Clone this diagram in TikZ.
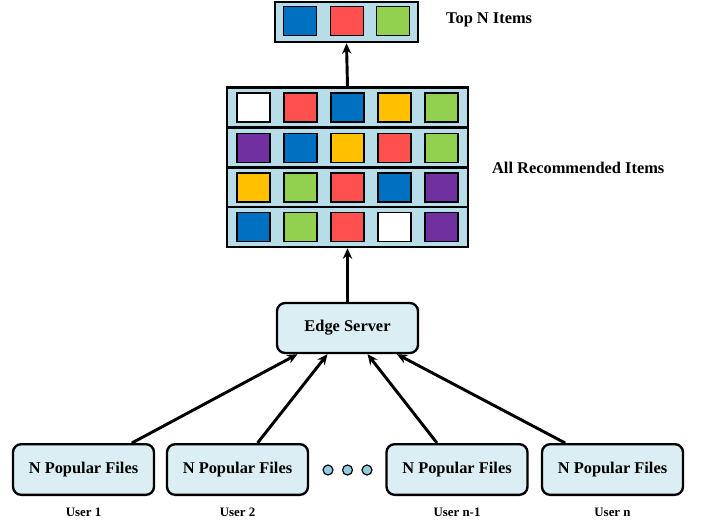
\documentclass[tikz,border=0pt]{standalone}
\usepackage{fontspec}
\setmainfont{Liberation Serif}
\usetikzlibrary{arrows.meta,positioning}
\definecolor{itemBlue}{RGB}{0, 112, 192}
\definecolor{itemRed}{RGB}{255, 80, 80}
\definecolor{itemYellow}{RGB}{255, 192, 0}
\definecolor{itemGreen}{RGB}{146, 208, 80}
\definecolor{itemPurple}{RGB}{112, 48, 160}
\definecolor{listFill}{RGB}{183, 221, 232}
\definecolor{boxFill}{RGB}{218, 238, 243}
\definecolor{dotFill}{RGB}{147, 205, 221}

\begin{document}
\begin{tikzpicture}[
    x=0.03cm, y=-0.03cm,
    font=\bfseries\fontsize{14}{16}\selectfont,
    % Rounded box for server and user files
    roundBox/.style={
        rectangle,
        rounded corners=7pt,
        draw=black,
        fill=boxFill,
        line width=2pt,
        minimum width=4.23cm,
        minimum height=1.52cm,
        inner sep=2pt
    },
    % One list row holding coloured items
    listRow/.style={
        rectangle,
        draw=black,
        fill=listFill,
        line width=2.2pt,
        minimum width=7.23cm,
        minimum height=1.2cm,
        inner sep=0pt
    },
    % A single coloured item
    itemBox/.style={
        rectangle,
        draw=black,
        fill=#1,
        line width=1.4pt,
        minimum width=1.0cm,
        minimum height=0.87cm,
        inner sep=0pt
    },
    % Ellipsis dot between users
    gapDot/.style={
        circle,
        draw=black,
        fill=dotFill,
        line width=1pt,
        minimum size=0.3cm,
        inner sep=0pt
    },
    userLabel/.style={font=\bfseries\fontsize{11}{13}\selectfont},
    flowArrow/.style={
        -{Stealth[length=9pt,width=8pt]},
        line width=2.5pt
    }
]
    \useasboundingbox (0,0) rectangle (701,522);

    % Top N items
    \node[listRow, minimum width=4.29cm] (top) at (346.5,22) {};
    \node[itemBox=itemBlue]  (t1) at (300,21) {};
    \node[itemBox=itemRed]   (t2) at (347,21) {};
    \node[itemBox=itemGreen] (t3) at (393,21) {};
    \node[anchor=west] (topLab) at (442,20) {Top N Items};

    % All recommended items, one row per user
    \node[listRow] (row1) at (347.5,107.5) {};
    \node[listRow] (row2) at (347.5,148) {};
    \node[listRow] (row3) at (347.5,187.5) {};
    \node[listRow] (row4) at (347.5,227) {};
    \foreach \c [count=\i] in {white,itemRed,itemBlue,itemYellow,itemGreen}
        \node[itemBox=\c] (a\i) at (253.5+47*\i-47,107.5) {};
    \foreach \c [count=\i] in {itemPurple,itemBlue,itemYellow,itemRed,itemGreen}
        \node[itemBox=\c] (b\i) at (253.5+47*\i-47,148) {};
    \foreach \c [count=\i] in {itemYellow,itemGreen,itemRed,itemBlue,itemPurple}
        \node[itemBox=\c] (c\i) at (253.5+47*\i-47,187.5) {};
    \foreach \c [count=\i] in {itemBlue,itemGreen,itemRed,white,itemPurple}
        \node[itemBox=\c] (d\i) at (253.5+47*\i-47,227) {};
    \node[anchor=west] (allLab) at (488,168) {All Recommended Items};

    % Edge server
    \node[roundBox, minimum height=1.5cm] (es) at (347.5,328) {Edge Server};

    % User side
    \node[roundBox] (u1) at (83.5,469.5) {N Popular Files};
    \node[roundBox] (u2) at (237.5,469.5) {N Popular Files};
    \node[roundBox] (u3) at (457,469.5) {N Popular Files};
    \node[roundBox] (u4) at (612.5,469.5) {N Popular Files};
    \node[userLabel] (l1) at (83.5,512) {User 1};
    \node[userLabel] (l2) at (237.5,512) {User 2};
    \node[userLabel] (l3) at (457,512) {User n-1};
    \node[userLabel] (l4) at (612.5,512) {User n};

    \node[gapDot] (g1) at (328,470) {};
    \node[gapDot] (g2) at (347.5,470) {};
    \node[gapDot] (g3) at (367,470) {};

    % Arrows
    \draw[flowArrow] ([xshift=1.45cm]u1.north) -- ([xshift=-1.5cm]es.south);
    \draw[flowArrow] ([xshift=0.6cm]u2.north) -- ([xshift=-0.6cm]es.south);
    \draw[flowArrow] ([xshift=-0.6cm]u3.north) -- ([xshift=0.6cm]es.south);
    \draw[flowArrow] ([xshift=-1.42cm]u4.north) -- ([xshift=1.48cm]es.south);
    \draw[flowArrow] (es.north) -- (row4.south);
    \draw[flowArrow] (row1.north) -- (top.south);

\end{tikzpicture}
\end{document}
